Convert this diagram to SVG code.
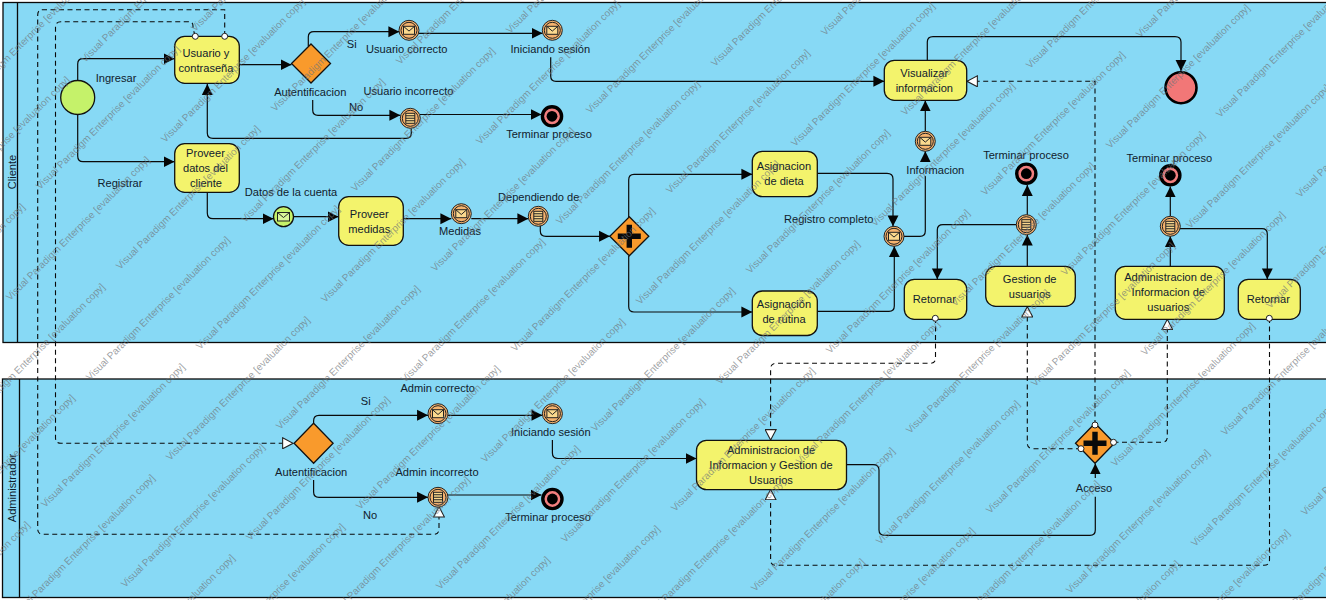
<svg xmlns="http://www.w3.org/2000/svg" xmlns:xlink="http://www.w3.org/1999/xlink" width="1326" height="600" viewBox="0 0 1326 600">
<style>
text{font-family:"Liberation Sans",Arial,sans-serif;font-size:11.1px;fill:#10202c;text-anchor:middle}
.pool{fill:#87d9f5;stroke:#0a0a0a;stroke-width:1.3}
.sep{stroke:#0a0a0a;stroke-width:1.3;fill:none}
.task{fill:#f3f36c;stroke:#111;stroke-width:1.3}
.gw{fill:#f99a2c;stroke:#111;stroke-width:1.3}
.ev{fill:#f5b36e;stroke:#222;stroke-width:1}
.evs{fill:#c5f26a;stroke:#111;stroke-width:1.3}
.endo{fill:#f27f7f;stroke:#000;stroke-width:3.4}
.endi{fill:#000}
.port{fill:#fff;stroke:#222;stroke-width:1}
.flow{fill:none;stroke:#0a0a0a;stroke-width:1.2;marker-end:url(#solid)}
.plain{fill:none;stroke:#0a0a0a;stroke-width:1.2}
.msg{fill:none;stroke:#0a0a0a;stroke-width:1.1;stroke-dasharray:5 3.5;marker-end:url(#hollow)}
.wm{font-size:10px;fill:#6f7478;fill-opacity:.68;text-anchor:start}
.ico{fill:#fbd98e;stroke:#222;stroke-width:1;fill-rule:evenodd}
</style>
<defs>
<marker id="solid" markerUnits="userSpaceOnUse" markerWidth="12" markerHeight="12" refX="10" refY="5.5" orient="auto" viewBox="0 0 11 11"><path d="M0 0.5L10 5.5L0 10.5Z" fill="#050505"/></marker>
<marker id="hollow" markerUnits="userSpaceOnUse" markerWidth="12" markerHeight="12" refX="10" refY="5.5" orient="auto" viewBox="0 0 11 11"><path d="M0.5 0.5L10 5.5L0.5 10.5Z" fill="#fff" stroke="#222" stroke-width="1"/></marker>
<g id="mail"><circle class="ev" r="10"/><circle class="ev" r="8"/><rect class="ico" x="-5.5" y="-4" width="11" height="8"/><path d="M-5.5 -4L0 0.8L5.5 -4" fill="none" stroke="#222" stroke-width="1"/></g>
<g id="list"><circle class="ev" r="10"/><circle class="ev" r="8"/><rect class="ico" x="-4.5" y="-5" width="9" height="10"/><path d="M-4.5 -2.5H4.5M-4.5 0H4.5M-4.5 2.5H4.5" stroke="#222" stroke-width="1.1"/></g>
<g id="term"><circle class="endo" r="9.6"/><circle class="endi" r="5.4"/></g>
<path id="plus" d="M-2.7 -11.5H2.7V-2.7H11.5V2.7H2.7V11.5H-2.7V2.7H-11.5V-2.7H-2.7Z" fill="#0a0a0a"/>
<text id="w" class="wm" transform="rotate(-45)">Visual Paradigm Enterprise [evaluation copy]</text>
</defs>
<rect width="1326" height="600" fill="#fff"/>
<g id="pool-cliente"><rect class="pool" x="3" y="2.5" width="1330" height="340"/><path class="sep" d="M17.5 2.5V342.5"/><text transform="translate(15.5 172) rotate(-90)">Cliente</text></g>
<g id="pool-administrador"><rect class="pool" x="2.5" y="379" width="1330" height="218.5"/><path class="sep" d="M19.5 379V597.5"/><text transform="translate(16 488) rotate(-90)">Administrador</text></g>
<g id="connectors">
<path class="flow" d="M77.7 80V64Q77.7 58.7 83 58.7H174.5"/>
<path class="flow" d="M77.7 114.5V156Q77.7 161.7 83 161.7H174.5"/>
<path class="flow" d="M239.5 64.7H291.5"/>
<path class="flow" d="M308.3 46V37Q308.3 31.7 314 31.7H399.3"/>
<path class="flow" d="M312.7 100V110Q312.7 115.3 318 115.3H400.3"/>
<path class="flow" d="M419 33.3H542.5"/>
<path class="flow" d="M550.7 57.3V76Q550.7 81.3 556 81.3H884.3"/>
<path class="flow" d="M411.3 128.5V133Q411.3 138.3 406 138.3H213Q207.3 138.3 207.3 133V84"/>
<path class="flow" d="M420 114.5H541.5"/>
<path class="flow" d="M207.3 192.5V213Q207.3 218.7 213 218.7H273.5"/>
<path class="flow" d="M293.5 216.7H338.5"/>
<path class="flow" d="M403.5 218.7H451.3"/>
<path class="flow" d="M471.3 218.7H528.3"/>
<path class="flow" d="M540.3 226V231Q540.3 236.3 546 236.3H610"/>
<path class="flow" d="M628.7 217V180Q628.7 174.3 634 174.3H752.3"/>
<path class="flow" d="M628.7 256V306.5Q628.7 312 634 312H752.3"/>
<path class="flow" d="M817.5 173.3H887Q893 173.3 893 179V226.3"/>
<path class="flow" d="M817.5 311.3H889Q894.3 311.3 894.3 306V246.3"/>
<path class="plain" d="M904 236.3H920Q925.3 236.3 925.3 231V176"/>
<path class="flow" d="M925.3 161V151.3"/>
<path class="flow" d="M925.3 131.3V100.5"/>
<path class="flow" d="M927.3 60V42Q927.3 36.6 933 36.6H1175Q1181 36.6 1181 42V71"/>
<path class="flow" d="M1027.3 214.7V185"/>
<path class="flow" d="M1027.3 266.3V234.7"/>
<path class="flow" d="M1016.3 224.7H943Q937.3 224.7 937.3 230V279.3"/>
<path class="flow" d="M1170.3 266.3V236.3"/>
<path class="flow" d="M1170.3 216.3V186.5"/>
<path class="flow" d="M1180 228.7H1262Q1267.3 228.7 1267.3 234V279.3"/>
<path class="flow" d="M313.6 423V421Q313.6 415.3 319 415.3H428"/>
<path class="flow" d="M448 415.3H542.4"/>
<path class="flow" d="M552.4 440V453Q552.4 458.5 558 458.5H696.5"/>
<path class="flow" d="M313.6 480V492Q313.6 497.3 319 497.3H428"/>
<path class="flow" d="M448 495H541.5"/>
<path class="plain" d="M846.5 464.7H873Q879 464.7 879 470V530Q879 535.3 885 535.3H1090Q1095.3 535.3 1095.3 530V496.7"/>
<path class="flow" d="M1095.3 478V463.5"/>
<path class="msg" d="M224.7 36V9.7H43Q37.7 9.7 37.7 15V529Q37.7 534.3 43 534.3H434Q439 534.3 439 529V506.7"/>
<path class="msg" d="M195.3 36L193 29V26Q193 21.7 188 21.7H61Q55.5 21.7 55.5 27V438Q55.5 443.3 61 443.3H293"/>
<path class="msg" d="M935.5 318V358Q935.5 363.3 930 363.3H776Q770.6 363.3 770.6 369V440"/>
<path class="msg" d="M1269.5 318V560Q1269.5 565.3 1264 565.3H776Q770.6 565.3 770.6 560V489.5"/>
<path class="msg" d="M1095 425V81.3H967"/>
<path class="msg" d="M1081 448.7H1033Q1027.3 448.7 1027.3 443V306.7"/>
<path class="msg" d="M1113.5 442.3H1162Q1167.3 442.3 1167.3 437V319.3"/>
</g>
<g id="start-cliente"><circle class="evs" cx="77.7" cy="97.5" r="17"/></g>
<g id="task-usuario"><rect class="task" x="174.7" y="36.3" width="64.6" height="47" rx="10"/><circle class="port" cx="195.3" cy="36.3" r="3"/><circle class="port" cx="224.7" cy="36.3" r="3"/><text x="206" y="57">Usuario y</text><text x="206" y="72">contraseña</text></g>
<g id="task-proveer-datos"><rect class="task" x="174.7" y="143.7" width="64.6" height="48.6" rx="10"/><text x="205.5" y="157">Proveer</text><text x="205.5" y="172">datos del</text><text x="206" y="187">cliente</text></g>
<g id="gw-autentificacion"><path class="gw" d="M311 44L330.5 63.5L311 83L291.5 63.5Z"/></g>
<g id="ev-usuario-correcto"><use href="#mail" x="409" y="30.3"/></g>
<g id="ev-iniciando"><use href="#mail" x="552.3" y="30.3"/></g>
<g id="ev-usuario-incorrecto"><use href="#list" x="410.3" y="118.3"/></g>
<g id="end-terminar-1"><use href="#term" x="552" y="116.3"/></g>
<g id="ev-datos"><circle class="evs" cx="283.5" cy="216.7" r="10"/><rect x="277.5" y="212.5" width="12" height="8.5" fill="#d8f59a" stroke="#222"/><path d="M277.5 212.5L283.5 217.5L289.5 212.5" fill="none" stroke="#222"/></g>
<g id="task-proveer-medidas"><rect class="task" x="338.7" y="196.7" width="64.6" height="48.6" rx="10"/><text x="369.3" y="218">Proveer</text><text x="369.3" y="233">medidas</text></g>
<g id="ev-medidas"><use href="#mail" x="461.3" y="213.7"/></g>
<g id="ev-dependiendo"><use href="#list" x="538.3" y="216.3"/></g>
<g id="gw-plus-1"><path class="gw" d="M629.3 216.8L648.8 236.3L629.3 255.8L609.8 236.3Z"/><use href="#plus" x="629.3" y="236.3"/></g>
<g id="task-dieta"><rect class="task" x="752.3" y="151.3" width="65" height="45.4" rx="10"/><text x="784" y="170">Asignacion</text><text x="784" y="185">de dieta</text></g>
<g id="task-rutina"><rect class="task" x="752.3" y="291" width="65" height="44.5" rx="10"/><text x="784" y="308">Asignación</text><text x="784" y="323">de rutina</text></g>
<g id="ev-registro"><use href="#mail" x="894" y="236.3"/></g>
<g id="ev-informacion"><use href="#mail" x="925.3" y="141.3"/></g>
<g id="task-visualizar"><rect class="task" x="884.3" y="60.3" width="82.4" height="40" rx="10"/><text x="924.3" y="77">Visualizar</text><text x="924.3" y="92">informacion</text></g>
<g id="end-cliente"><circle cx="1181" cy="87.7" r="15.5" fill="#f27777" stroke="#000" stroke-width="2.6"/></g>
<g id="end-terminar-2"><use href="#term" x="1026.3" y="173.7"/></g>
<g id="ev-lista-gestion"><use href="#list" x="1026.3" y="224.7"/></g>
<g id="task-gestion"><rect class="task" x="985.7" y="266.3" width="89.6" height="40" rx="10"/><text x="1029.7" y="283">Gestion de</text><text x="1029.7" y="298">usuarios</text></g>
<g id="task-retornar-1"><rect class="task" x="904.3" y="279.3" width="62.4" height="40" rx="10"/><circle class="port" cx="935.3" cy="318.3" r="3"/><text x="934.3" y="303">Retornar</text></g>
<g id="end-terminar-3"><use href="#term" x="1170.3" y="175.3"/></g>
<g id="ev-lista-admin"><use href="#list" x="1170.3" y="226.3"/></g>
<g id="task-admin-usuarios"><rect class="task" x="1115.3" y="266.3" width="109" height="53" rx="10"/><text x="1168.3" y="281">Administracion de</text><text x="1168.3" y="296">Informacion de</text><text x="1168.3" y="311">usuarios</text></g>
<g id="task-retornar-2"><rect class="task" x="1238.3" y="279.3" width="62" height="40" rx="10"/><circle class="port" cx="1269.3" cy="318.3" r="3"/><text x="1268.3" y="303">Retornar</text></g>
<g id="gw-autentificacion-admin"><path class="gw" d="M313.6 423.3L333.1 443.3L313.6 463.3L294.1 443.3Z"/></g>
<g id="ev-admin-correcto"><use href="#mail" x="438" y="413.7"/></g>
<g id="ev-iniciando-admin"><use href="#mail" x="552.4" y="413.7"/></g>
<g id="ev-admin-incorrecto"><use href="#list" x="438" y="497.3"/></g>
<g id="end-terminar-admin"><use href="#term" x="552.4" y="499"/></g>
<g id="task-admin"><rect class="task" x="696.5" y="440.3" width="150" height="49.4" rx="10"/><text x="771" y="453.5">Administracion de</text><text x="771" y="469">Informacion y Gestion de</text><text x="771" y="484">Usuarios</text></g>
<g id="gw-acceso"><path class="gw" d="M1095 423.3L1114.5 443.3L1095 463.3L1075.5 443.3Z"/><use href="#plus" x="1095" y="443.3"/><circle class="port" cx="1095" cy="425" r="3"/><circle class="port" cx="1081" cy="448.7" r="3"/><circle class="port" cx="1113.5" cy="442.3" r="3"/></g>
<g id="labels">
<text x="116" y="82">Ingresar</text><text x="120" y="187">Registrar</text><text x="351.7" y="48">Si</text><text x="406.7" y="53">Usuario correcto</text><text x="310.3" y="96">Autentificacion</text><text x="408.5" y="95">Usuario incorrecto</text><text x="356" y="110.5">No</text><text x="550.3" y="53">Iniciando sesión</text><text x="549" y="138">Terminar proceso</text><text x="291" y="196">Datos de la cuenta</text><text x="460" y="235">Medidas</text><text x="538.7" y="201">Dependiendo de</text><text x="828.7" y="223">Registro completo</text><text x="935.3" y="174">Informacion</text><text x="1026" y="159">Terminar proceso</text><text x="1169.3" y="162">Terminar proceso</text>
<text x="437.7" y="392">Admin correcto</text><text x="365.8" y="404.5">Si</text><text x="550.8" y="436">Iniciando sesión</text><text x="311.2" y="476">Autentificacion</text><text x="437" y="476">Admin incorrecto</text><text x="370" y="519">No</text><text x="548" y="521">Terminar proceso</text><text x="1094" y="492">Acceso</text>
</g>
<g id="watermark">
<use href="#w" x="-115" y="348"/><use href="#w" x="-35" y="428"/><use href="#w" x="45" y="508"/><use href="#w" x="125" y="588"/><use href="#w" x="205" y="668"/>
<use href="#w" x="-120" y="30"/><use href="#w" x="-40" y="110"/><use href="#w" x="40" y="190"/><use href="#w" x="120" y="270"/><use href="#w" x="200" y="350"/><use href="#w" x="280" y="430"/><use href="#w" x="360" y="510"/><use href="#w" x="440" y="590"/><use href="#w" x="520" y="670"/>
<use href="#w" x="195" y="32"/><use href="#w" x="275" y="112"/><use href="#w" x="355" y="192"/><use href="#w" x="435" y="272"/><use href="#w" x="515" y="352"/><use href="#w" x="595" y="432"/><use href="#w" x="675" y="512"/><use href="#w" x="755" y="592"/><use href="#w" x="835" y="672"/>
<use href="#w" x="510" y="34"/><use href="#w" x="590" y="114"/><use href="#w" x="670" y="194"/><use href="#w" x="750" y="274"/><use href="#w" x="830" y="354"/><use href="#w" x="910" y="434"/><use href="#w" x="990" y="514"/><use href="#w" x="1070" y="594"/><use href="#w" x="1150" y="674"/>
<use href="#w" x="825" y="36"/><use href="#w" x="905" y="116"/><use href="#w" x="985" y="196"/><use href="#w" x="1065" y="276"/><use href="#w" x="1145" y="356"/><use href="#w" x="1225" y="436"/><use href="#w" x="1305" y="516"/>
<use href="#w" x="1140" y="38"/><use href="#w" x="1220" y="118"/><use href="#w" x="1300" y="198"/><use href="#w" x="-110" y="666"/>
<use href="#w" x="-65" y="539"/><use href="#w" x="15" y="619"/><use href="#w" x="95" y="699"/>
<use href="#w" x="-70" y="221"/><use href="#w" x="10" y="301"/><use href="#w" x="90" y="381"/><use href="#w" x="170" y="461"/><use href="#w" x="250" y="541"/><use href="#w" x="330" y="621"/><use href="#w" x="410" y="701"/>
<use href="#w" x="85" y="63"/><use href="#w" x="165" y="143"/><use href="#w" x="245" y="223"/><use href="#w" x="325" y="303"/><use href="#w" x="405" y="383"/><use href="#w" x="485" y="463"/><use href="#w" x="565" y="543"/><use href="#w" x="645" y="623"/><use href="#w" x="725" y="703"/>
<use href="#w" x="400" y="65"/><use href="#w" x="480" y="145"/><use href="#w" x="560" y="225"/><use href="#w" x="640" y="305"/><use href="#w" x="720" y="385"/><use href="#w" x="800" y="465"/><use href="#w" x="880" y="545"/><use href="#w" x="960" y="625"/><use href="#w" x="1040" y="705"/>
<use href="#w" x="715" y="67"/><use href="#w" x="795" y="147"/><use href="#w" x="875" y="227"/><use href="#w" x="955" y="307"/><use href="#w" x="1035" y="387"/><use href="#w" x="1115" y="467"/><use href="#w" x="1195" y="547"/><use href="#w" x="1275" y="627"/>
<use href="#w" x="1030" y="69"/><use href="#w" x="1110" y="149"/><use href="#w" x="1190" y="229"/><use href="#w" x="1270" y="309"/>
</g>
</svg>
